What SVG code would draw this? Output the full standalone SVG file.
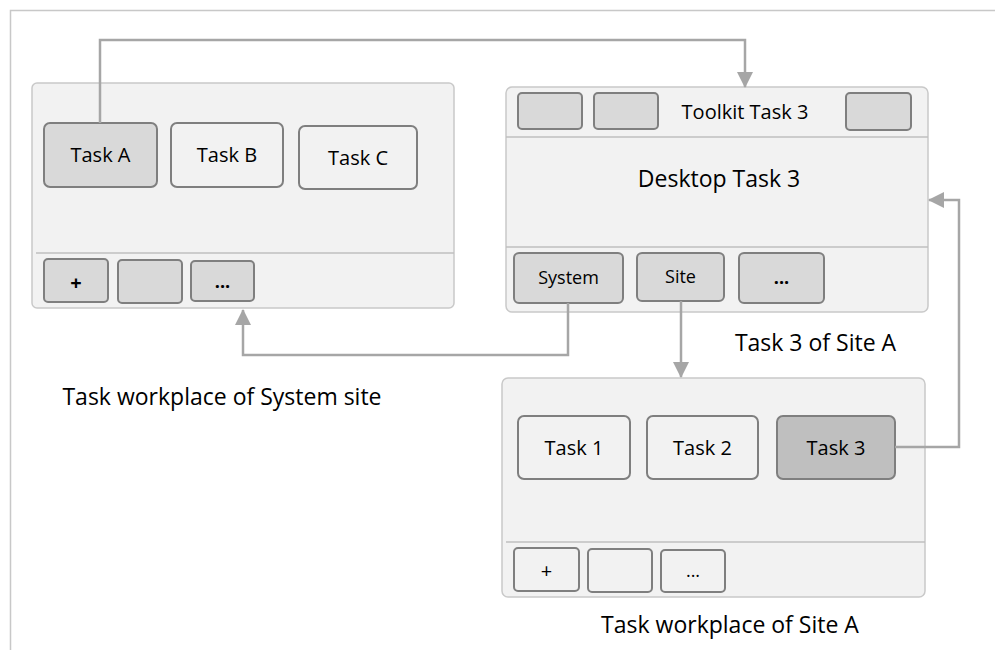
<svg xmlns="http://www.w3.org/2000/svg" width="995" height="650" viewBox="0 0 995 650">
<defs>
<marker id="arr" markerUnits="userSpaceOnUse" markerWidth="16" markerHeight="16" viewBox="0 0 16 16" refX="15" refY="8" orient="auto">
<path d="M0,0 L16,8 L0,16 Z" fill="#a6a6a6"/>
</marker>
</defs>
<style>
.frame{fill:none;stroke:#c8c8c8;stroke-width:1.5}
.panel{fill:#f2f2f2;stroke:#c9c9c9;stroke-width:1.5}
.div{stroke:#bfbfbf;stroke-width:1.5}
.box{stroke:#7f7f7f;stroke-width:2}
.dk{fill:#d9d9d9}
.lt{fill:#f2f2f2}
.sel{fill:#bfbfbf}
.conn{fill:none;stroke:#a6a6a6;stroke-width:2.5}
text{font-family:"Open Sans","Liberation Sans",sans-serif;fill:#000;text-anchor:middle}
.t20{font-size:20px}
.t18{font-size:18px}
.t23{font-size:23px}
.b{font-weight:bold}
</style>
<rect width="995" height="650" fill="#ffffff"/>
<path class="frame" d="M10.5,650 V10.5 H995"/>

<g id="system-workplace">
<rect class="panel" x="32" y="83" width="422" height="225" rx="5"/>
<line class="div" x1="36" y1="253" x2="454" y2="253"/>
<g id="task-a"><rect class="box dk" x="44" y="123" width="113" height="64" rx="6"/><text class="t20" x="100.5" y="162">Task A</text></g>
<g id="task-b"><rect class="box lt" x="171" y="123" width="112" height="64" rx="6"/><text class="t20" x="227" y="162">Task B</text></g>
<g id="task-c"><rect class="box lt" x="299" y="126" width="118" height="63" rx="6"/><text class="t20" x="358" y="165">Task C</text></g>
<g id="sys-plus"><rect class="box dk" x="44" y="259" width="64" height="43" rx="4"/><text class="t20 b" x="76" y="290">+</text></g>
<g id="sys-blank"><rect class="box dk" x="118" y="260" width="64" height="43" rx="4"/></g>
<g id="sys-more"><rect class="box dk" x="191" y="261" width="63" height="40" rx="4"/><text class="t18 b" x="222.5" y="288">...</text></g>
</g>
<text id="label-system" class="t23" x="222" y="405">Task workplace of System site</text>

<g id="task3-desktop">
<rect class="panel" x="506" y="87" width="422" height="225" rx="6"/>
<line class="div" x1="506" y1="137" x2="928" y2="137"/>
<line class="div" x1="506" y1="247" x2="928" y2="247"/>
<g id="tk-1"><rect class="box dk" x="518" y="93" width="64" height="36" rx="4"/></g>
<g id="tk-2"><rect class="box dk" x="594" y="93" width="64" height="36" rx="4"/></g>
<g id="tk-3"><rect class="box dk" x="846" y="93" width="65" height="37" rx="4"/></g>
<text class="t20" x="745" y="119">Toolkit Task 3</text>
<text class="t23" x="719" y="187">Desktop Task 3</text>
<g id="btn-system"><rect class="box dk" x="514" y="253" width="109" height="50" rx="5"/><text class="t18" x="568.5" y="284">System</text></g>
<g id="btn-site"><rect class="box dk" x="637" y="253" width="87" height="48" rx="5"/><text class="t18" x="680.5" y="283">Site</text></g>
<g id="btn-more"><rect class="box dk" x="739" y="253" width="85" height="50" rx="5"/><text class="t18 b" x="781.5" y="284">...</text></g>
</g>
<text id="label-task3" class="t23" x="815.5" y="351">Task 3 of Site A</text>

<g id="site-a-workplace">
<rect class="panel" x="502" y="378" width="423" height="219" rx="6"/>
<line class="div" x1="506" y1="542" x2="925" y2="542"/>
<g id="task-1"><rect class="box lt" x="518" y="416" width="112" height="63" rx="6"/><text class="t20" x="574" y="455">Task 1</text></g>
<g id="task-2"><rect class="box lt" x="647" y="416" width="111" height="63" rx="6"/><text class="t20" x="702.5" y="455">Task 2</text></g>
<g id="task-3"><rect class="box sel" x="777" y="416" width="118" height="63" rx="6"/><text class="t20" x="836" y="455">Task 3</text></g>
<g id="site-plus"><rect class="box lt" x="514" y="548" width="65" height="43" rx="4"/><text class="t20" x="546.5" y="578">+</text></g>
<g id="site-blank"><rect class="box lt" x="588" y="549" width="64" height="43" rx="4"/></g>
<g id="site-more"><rect class="box lt" x="661" y="550" width="64" height="42" rx="4"/><text class="t18" x="693" y="577">...</text></g>
</g>
<text id="label-site" class="t23" x="730" y="633">Task workplace of Site A</text>

<g id="connectors">
<path class="conn" d="M100,123 V40 H745 V87" marker-end="url(#arr)"/>
<path class="conn" d="M568,303 V355 H243 V310" marker-end="url(#arr)"/>
<path class="conn" d="M681,301 V377" marker-end="url(#arr)"/>
<path class="conn" d="M895,447 H959 V200 H929" marker-end="url(#arr)"/>
</g>
</svg>
